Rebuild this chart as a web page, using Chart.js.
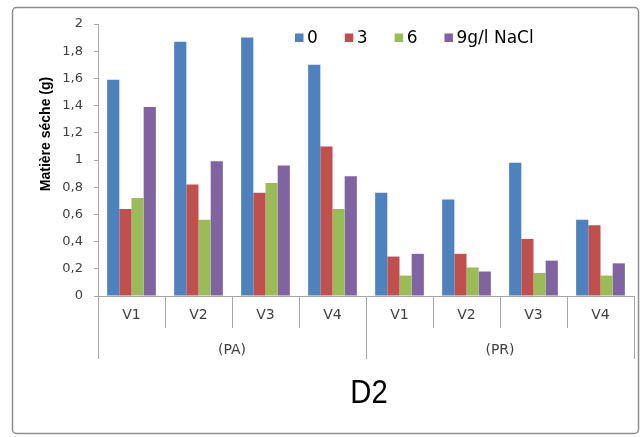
<!DOCTYPE html>
<html>
<head>
<meta charset="utf-8">
<script src="https://cdn.jsdelivr.net/npm/chart.js@4/dist/chart.umd.min.js"></script>
<style>
  html, body { margin: 0; padding: 0; background: #ffffff; }
  #wrap { position: relative; width: 643px; height: 437px; }
</style>
</head>
<body>
<div id="wrap"><canvas id="c"></canvas></div>
<script>
// Varieties (x categories) and their parent groups
const varieties = ['V1', 'V2', 'V3', 'V4', 'V1', 'V2', 'V3', 'V4'];
const groups = ['(PA)', '(PR)'];
const groupSize = 4;

// Salt levels (series)
const seriesNames = ['0', '3', '6', '9g/l NaCl'];
const seriesColors = ['#4F81BD', '#C0504D', '#9BBB59', '#8064A2'];

// Dry matter (g) per variety, one array per salt level
const salt0 = [1.59, 1.87, 1.90, 1.70, 0.76, 0.71, 0.98, 0.56];
const salt3 = [0.64, 0.82, 0.76, 1.10, 0.29, 0.31, 0.42, 0.52];
const salt6 = [0.72, 0.56, 0.83, 0.64, 0.15, 0.21, 0.17, 0.15];
const salt9 = [1.39, 0.99, 0.96, 0.88, 0.31, 0.18, 0.26, 0.24];
const seriesValues = [salt0, salt3, salt6, salt9];

// Y axis settings
const yMin = 0, yMax = 2, yStep = 0.2;
const yTitle = 'Matière séche (g)';
const chartTitle = 'D2';

const GRAY = '#a6a6a6';
const TEXT = '#404040';

// Frame, axis title, group labels, legend and caption drawn around the plot
const decorations = {
  id: 'decorations',
  beforeDraw(chart) {
    const ctx = chart.ctx;
    ctx.save();
    ctx.fillStyle = '#ffffff';
    ctx.fillRect(0, 0, chart.width, chart.height);
    ctx.strokeStyle = '#8e8e8e';
    ctx.lineWidth = 1.5;
    ctx.beginPath();
    ctx.roundRect(12.5, 7.5, chart.width - 17, chart.height - 11, 4);
    ctx.stroke();
    ctx.restore();
  },
  afterDraw(chart) {
    const ctx = chart.ctx;
    const x = chart.scales.x;
    const area = chart.chartArea;
    const half = (x.getPixelForValue(1) - x.getPixelForValue(0)) / 2;
    ctx.save();

    // long separators between groups + group names
    ctx.strokeStyle = GRAY;
    ctx.lineWidth = 1;
    const yTop = area.bottom + 32, yBot = area.bottom + 63;
    for (let g = 0; g <= groups.length; g++) {
      const idx = g * groupSize;
      const px = Math.round(idx < varieties.length
        ? x.getPixelForValue(idx) - half
        : x.getPixelForValue(varieties.length - 1) + half) + 0.5;
      ctx.beginPath();
      ctx.moveTo(px, yTop);
      ctx.lineTo(px, yBot);
      ctx.stroke();
    }
    ctx.fillStyle = TEXT;
    ctx.font = '14px "DejaVu Sans"';
    ctx.textAlign = 'center';
    ctx.textBaseline = 'middle';
    groups.forEach((name, g) => {
      const a = x.getPixelForValue(g * groupSize) - half;
      const b = x.getPixelForValue(g * groupSize + groupSize - 1) + half;
      ctx.fillText(name, (a + b) / 2, area.bottom + 54);
    });

    // caption below the axis, narrow face
    ctx.save();
    ctx.translate((area.left + area.right) / 2 + 3, area.bottom + 98);
    ctx.scale(0.86, 1);
    ctx.font = '34px "Liberation Sans"';
    ctx.fillStyle = '#000000';
    ctx.fillText(chartTitle, 0, 0);
    ctx.restore();

    // y axis title
    ctx.save();
    ctx.translate(46, 134);
    ctx.rotate(-Math.PI / 2);
    ctx.font = 'bold 14px "Liberation Sans"';
    ctx.fillStyle = '#000000';
    ctx.fillText(yTitle, 0, 0);
    ctx.restore();

    // legend inside the plot
    ctx.font = '17px "DejaVu Sans"';
    ctx.textAlign = 'left';
    ctx.textBaseline = 'middle';
    let lx = 295;
    const ly = 39;
    chart.data.datasets.forEach(ds => {
      ctx.fillStyle = ds.backgroundColor;
      ctx.fillRect(lx, ly - 5.5, 8.5, 8.5);
      ctx.fillStyle = '#000000';
      ctx.fillText(ds.label, lx + 12, ly);
      lx += 12 + ctx.measureText(ds.label).width + 27;
    });
    ctx.restore();
  }
};

new Chart(document.getElementById('c'), {
  type: 'bar',
  data: {
    labels: varieties,
    datasets: seriesNames.map((name, i) => ({
      label: name,
      data: seriesValues[i],
      backgroundColor: seriesColors[i],
      borderWidth: 0,
      barPercentage: 1,
      categoryPercentage: 0.727
    }))
  },
  options: {
    responsive: true,
    maintainAspectRatio: false,
    animation: false,
    layout: { padding: { left: 14, right: 9, top: 24, bottom: 71 } },
    plugins: {
      legend: { display: false },
      tooltip: { enabled: false },
      title: { display: false }
    },
    scales: {
      x: {
        grid: {
          display: true,
          offset: true,
          drawOnChartArea: false,
          drawTicks: true,
          tickLength: 32,
          color: GRAY
        },
        border: { display: true, color: GRAY },
        ticks: {
          color: TEXT,
          font: { family: '"DejaVu Sans"', size: 14 },
          padding: -21,
          maxRotation: 0,
          autoSkip: false
        },
        afterFit(scale) { scale.height = 70; }
      },
      y: {
        min: yMin,
        max: yMax,
        grid: {
          display: true,
          drawOnChartArea: false,
          drawTicks: true,
          tickLength: 4,
          color: GRAY
        },
        border: { display: true, color: GRAY },
        ticks: {
          stepSize: yStep,
          color: TEXT,
          font: { family: '"DejaVu Sans"', size: 13 },
          padding: 11,
          callback: v => String(Number(v.toFixed(1))).replace('.', ',')
        },
        afterFit(scale) { scale.width = 84; }
      }
    }
  },
  plugins: [decorations]
});
</script>
</body>
</html>
